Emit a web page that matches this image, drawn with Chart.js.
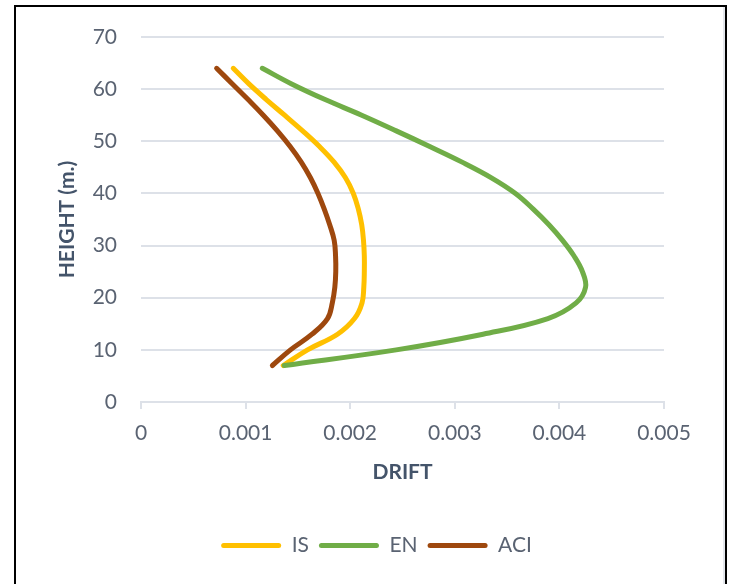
<!DOCTYPE html>
<html>
<head>
<meta charset="utf-8">
<script src="https://cdn.jsdelivr.net/npm/chart.js@4/dist/chart.umd.min.js"></script>
<style>
  html, body { margin: 0; padding: 0; background: #fff; width: 731px; height: 584px; overflow: hidden; }
  #wrap { position: relative; width: 731px; height: 584px; }
  #c { position: absolute; left: 0; top: 0; }
  #frame {
    position: absolute; left: 14px; top: 5px; width: 713px; height: 640px;
    box-sizing: border-box; border: 2px solid #000; border-bottom: none;
    box-shadow: inset -2px 0 0 #e4e7ec; pointer-events: none;
  }
</style>
</head>
<body>
<div id="wrap">
  <canvas id="c" width="731" height="584"></canvas>
  <div id="frame"></div>
</div>
<script>
// Storey heights (m) and inter-storey drift for each code
const heights = [7, 10, 13, 16, 19, 22, 25, 28, 31, 34, 37, 40, 43, 46, 49, 52, 55, 58, 61, 64];
const driftIS  = [0.001360, 0.001592, 0.001879, 0.002041, 0.002113, 0.002130, 0.002135, 0.002135, 0.002127, 0.002110,
                  0.002078, 0.002030, 0.001955, 0.001846, 0.001706, 0.001545, 0.001373, 0.001198, 0.001032, 0.000882];
const driftEN  = [0.00137, 0.00244, 0.00327, 0.00389, 0.00416, 0.00425, 0.00422, 0.00414, 0.00403, 0.00390,
                  0.00375, 0.00358, 0.00335, 0.00307, 0.00276, 0.00244, 0.00211, 0.00176, 0.00144, 0.00116];
const driftACI = [0.001256, 0.001429, 0.001635, 0.001783, 0.001829, 0.001853, 0.001862, 0.001860, 0.001847, 0.001804,
                  0.001752, 0.001692, 0.001620, 0.001532, 0.001426, 0.001304, 0.001169, 0.001024, 0.000874, 0.000723];
const seriesNames = ['IS', 'EN', 'ACI'];
const xTickLabels = ['0', '0.001', '0.002', '0.003', '0.004', '0.005'];
const yTickLabels = ['0', '10', '20', '30', '40', '50', '60', '70'];

const colors = ['#FFC000', '#70AD47', '#9E480E'];
const tickColor = '#5a6372';
const titleColor = '#44546a';
const gridColor = '#dde1e8';

Chart.defaults.font.family = 'Lato, "Open Sans", sans-serif';

function toPoints(values) {
  return values.map((v, i) => ({ x: v, y: heights[i] }));
}

const allSeries = [driftIS, driftEN, driftACI];
const datasets = allSeries.map((vals, i) => ({
  label: seriesNames[i],
  data: toPoints(vals),
  showLine: true,
  borderColor: colors[i],
  backgroundColor: colors[i],
  borderWidth: 5,
  borderCapStyle: 'round',
  borderJoinStyle: 'round',
  pointRadius: 0,
  pointHoverRadius: 0,
  tension: 0.4,
  order: 3 - i
}));

// nudge the legend row so it sits centred under the frame
const legendShift = {
  id: 'legendShift',
  afterLayout(chart) {
    const lg = chart.legend;
    if (lg) { lg.left += 17; lg.right += 17; }
  }
};

new Chart(document.getElementById('c'), {
  type: 'scatter',
  data: { datasets },
  plugins: [legendShift],
  options: {
    responsive: false,
    animation: false,
    layout: { padding: { top: 37, left: 55, right: 67, bottom: 18 } },
    plugins: {
      tooltip: { enabled: false },
      legend: {
        position: 'bottom',
        labels: {
          boxWidth: 60,
          boxHeight: 5,
          padding: 10,
          color: tickColor,
          font: { size: 21 },
          generateLabels(chart) {
            const items = Chart.defaults.plugins.legend.labels.generateLabels(chart);
            return items.map(it => Object.assign(it, {
              fillStyle: colors[it.datasetIndex],
              lineWidth: 0,
              borderRadius: 2.5
            }));
          },
          sort: (a, b) => a.datasetIndex - b.datasetIndex
        }
      }
    },
    scales: {
      x: {
        type: 'linear',
        min: 0,
        max: 0.005,
        afterFit(scale) { scale.height = 123; },
        ticks: {
          stepSize: 0.001,
          color: tickColor,
          font: { size: 21 },
          padding: 12,
          maxRotation: 0,
          callback: (v, i) => xTickLabels[i]
        },
        grid: {
          drawOnChartArea: false,
          drawTicks: true,
          tickLength: 7,
          color: gridColor,
          lineWidth: 2
        },
        border: { display: true, color: gridColor, width: 2 },
        title: {
          display: true,
          text: 'DRIFT',
          color: titleColor,
          font: { size: 21, weight: 'bold' },
          padding: { top: 0, bottom: 40 }
        }
      },
      y: {
        type: 'linear',
        min: 0,
        max: 70,
        afterFit(scale) { scale.width = 86; },
        ticks: {
          stepSize: 10,
          color: tickColor,
          font: { size: 21 },
          padding: 24,
          callback: (v, i) => yTickLabels[i]
        },
        grid: { color: gridColor, lineWidth: 2, drawTicks: false },
        border: { display: false },
        title: {
          display: true,
          text: 'HEIGHT (m.)',
          color: titleColor,
          font: { size: 21, weight: 'bold' },
          padding: 0
        }
      }
    }
  }
});
</script>
</body>
</html>
